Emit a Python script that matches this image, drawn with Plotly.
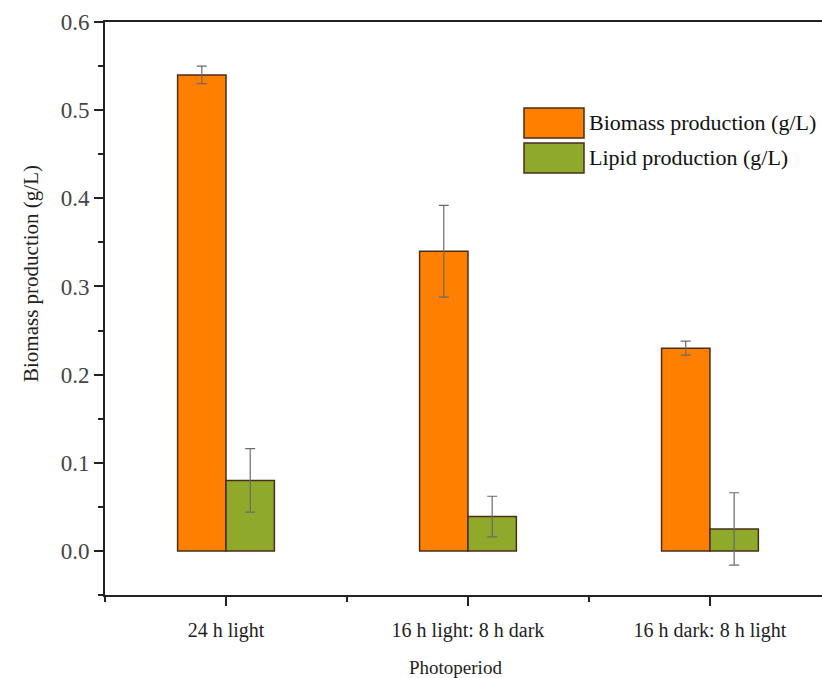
import plotly.graph_objects as go

categories = ["24 h light", "16 h light: 8 h dark", "16 h dark: 8 h light"]
biomass = [0.54, 0.34, 0.23]
biomass_err = [0.010, 0.052, 0.008]
lipid = [0.080, 0.039, 0.025]
lipid_err = [0.036, 0.023, 0.041]
series_names = ["Biomass production (g/L)", "Lipid production (g/L)"]
colors = ["#FF7F00", "#8FAA2A"]
x_title = "Photoperiod"
y_title = "Biomass production (g/L)"

x = list(range(len(categories)))
FONT = "Liberation Serif, Times New Roman, serif"
edge = "#4a2e1a"

# plot-area geometry in pixels (for paper-coordinate placement)
L, T, W, H = 105, 22, 717, 573


def px(xp):
    return (xp - L) / W


def py(yp):
    return 1 - (yp - T) / H


fig = go.Figure()
for vals, errs, col, name in [(biomass, biomass_err, colors[0], series_names[0]),
                              (lipid, lipid_err, colors[1], series_names[1])]:
    fig.add_trace(go.Bar(
        x=x, y=vals, name=name, showlegend=False,
        marker=dict(color=col, line=dict(color=edge, width=1.5)),
        error_y=dict(type="data", array=errs, visible=True,
                     color="#6b6b6b", thickness=1.2, width=5),
    ))

# custom legend (large swatches like the reference)
lx0, lx1 = 524, 584
for i, (name, col) in enumerate(zip(series_names, colors)):
    y0 = 108 + i * 35
    fig.add_shape(type="rect", xref="paper", yref="paper",
                  x0=px(lx0), x1=px(lx1), y0=py(y0 + 30), y1=py(y0),
                  fillcolor=col, line=dict(color=edge, width=1.5))
    fig.add_annotation(xref="paper", yref="paper",
                       x=px(lx1 + 3), y=py(y0 + 15),
                       text=name, showarrow=False, xanchor="left", yanchor="middle",
                       font=dict(family=FONT, size=22, color="#111"))

# axis titles
fig.add_annotation(xref="paper", yref="paper", x=px(455), y=py(667),
                   text=x_title, showarrow=False, xanchor="center", yanchor="middle",
                   font=dict(family=FONT, size=19, color="#222"))
fig.add_annotation(xref="paper", yref="paper", x=px(31), y=py(274),
                   text=y_title, showarrow=False, textangle=-90,
                   xanchor="center", yanchor="middle",
                   font=dict(family=FONT, size=21, color="#222"))

fig.update_layout(
    width=822, height=678,
    margin=dict(l=L, r=0, t=T, b=678 - T - H),
    paper_bgcolor="white", plot_bgcolor="white",
    barmode="group", bargap=0.6, bargroupgap=0,
    font=dict(family=FONT, color="#333"),
    xaxis=dict(
        range=[-0.5, 2.463], tickmode="array", tickvals=x, ticktext=categories,
        showline=True, linecolor="#222", linewidth=2, mirror=True,
        ticks="outside", ticklen=9, tickwidth=2, tickcolor="#222",
        ticklabelstandoff=7,
        minor=dict(tickmode="array", tickvals=[-0.5, 0.5, 1.5], ticks="outside",
                   ticklen=5, tickwidth=2, tickcolor="#222"),
        showgrid=False, zeroline=False,
        tickfont=dict(family=FONT, size=20, color="#222"),
    ),
    yaxis=dict(
        range=[-0.05, 0.6], dtick=0.1, tick0=0, tickformat=".1f",
        showline=True, linecolor="#222", linewidth=2,
        ticks="outside", ticklen=9, tickwidth=2, tickcolor="#222",
        minor=dict(dtick=0.05, ticks="outside", ticklen=5, tickwidth=2, tickcolor="#222"),
        showgrid=False, zeroline=False,
        tickfont=dict(family=FONT, size=23, color="#444"),
    ),
)

fig.write_html("out.html")
